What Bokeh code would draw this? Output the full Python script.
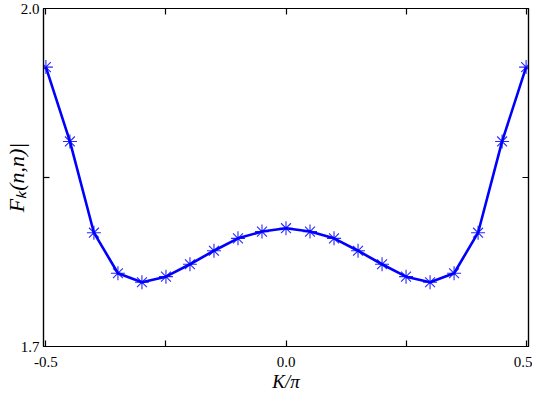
from bokeh.plotting import figure
from bokeh.models import LinearAxis, FixedTicker, Range1d, NumeralTickFormatter
from bokeh.embed import file_html
from bokeh.resources import INLINE

# data
k_over_pi = [-0.50, -0.45, -0.40, -0.35, -0.30, -0.25, -0.20, -0.15, -0.10, -0.05, 0.00,
             0.05, 0.10, 0.15, 0.20, 0.25, 0.30, 0.35, 0.40, 0.45, 0.50]
f_vals = [1.948, 1.882, 1.801, 1.765, 1.757, 1.762, 1.773, 1.785, 1.796, 1.802, 1.805,
          1.802, 1.796, 1.785, 1.773, 1.762, 1.757, 1.765, 1.801, 1.882, 1.948]
x_major = [-0.5, 0.0, 0.5]
x_minor = [-0.25, 0.25]
y_major = [1.7, 2.0]
y_minor = [1.85]
x_label = "K/π"
y_label = "Fₖ(n,n)|"

FONT = "Liberation Serif"
BLUE = "#0000ff"

p = figure(frame_width=485, frame_height=338, output_backend="svg", toolbar_location=None,
           x_range=Range1d(-0.505, 0.505), y_range=Range1d(1.7, 2.0),
           x_axis_location=None, y_axis_location=None,
           min_border_left=40, min_border_right=4, min_border_top=8, min_border_bottom=0)
p.grid.visible = False
p.outline_line_color = "black"
p.outline_line_width = 1.2
p.background_fill_color = "white"
p.border_fill_color = "white"


def make_axis(ticker):
    ax = LinearAxis(ticker=ticker, formatter=NumeralTickFormatter(format="0.0"))
    ax.axis_line_color = "black"
    ax.axis_line_width = 1.2
    ax.major_tick_in = 6
    ax.major_tick_out = 0
    ax.minor_tick_in = 6
    ax.minor_tick_out = 0
    ax.major_tick_line_width = 1.2
    ax.minor_tick_line_width = 1.2
    ax.major_tick_line_color = "black"
    ax.minor_tick_line_color = "black"
    ax.major_label_text_font = FONT
    ax.major_label_text_color = "black"
    ax.major_label_text_font_size = "15px"
    ax.major_label_standoff = 4
    ax.axis_label_text_font = FONT
    ax.axis_label_text_color = "black"
    ax.axis_label_text_font_style = "italic"
    return ax


bottom = make_axis(FixedTicker(ticks=x_major, minor_ticks=x_minor))
left = make_axis(FixedTicker(ticks=y_major, minor_ticks=y_minor))
# mirrored ticks on top/right, without labels
top = make_axis(FixedTicker(ticks=[], minor_ticks=x_major + x_minor))
right = make_axis(FixedTicker(ticks=[], minor_ticks=y_major + y_minor))
for ax in (top, right):
    ax.major_label_standoff = 0
    ax.axis_label_standoff = 0

bottom.major_label_standoff = 10
bottom.axis_label = x_label
bottom.axis_label_text_font_size = "19px"
bottom.axis_label_standoff = 1

left.axis_label = y_label
left.axis_label_text_font_size = "22px"
left.axis_label_standoff = -11

p.add_layout(bottom, "below")
p.add_layout(left, "left")
p.add_layout(top, "above")
p.add_layout(right, "right")

p.line(k_over_pi, f_vals, line_color=BLUE, line_width=2.6)
p.scatter(k_over_pi, f_vals, marker="asterisk", size=14, line_color=BLUE, line_width=1.1, line_alpha=0.85)

open("out.html", "w").write(file_html(p, INLINE))
